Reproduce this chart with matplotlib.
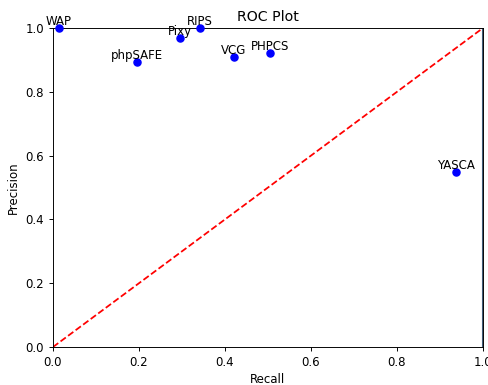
import matplotlib
matplotlib.use("Agg")
import matplotlib.pyplot as plt

# tool names and their (recall, precision) values
tools = ['WAP', 'phpSAFE', 'Pixy', 'RIPS', 'VCG', 'PHPCS', 'YASCA']
recall = [0.014, 0.195, 0.295, 0.342, 0.421, 0.505, 0.937]
precision = [1.0, 0.893, 0.969, 1.0, 0.909, 0.922, 0.549]

s = 0.85  # original looks like a downscaled default-size figure
plt.rcParams.update({
    'font.size': 10 * s,
    'axes.titlesize': 12 * s,
    'axes.linewidth': 0.8 * s,
    'xtick.major.size': 3.5 * s,
    'ytick.major.size': 3.5 * s,
    'xtick.major.width': 0.8 * s,
    'ytick.major.width': 0.8 * s,
    'lines.linewidth': 1.5 * s,
})

fig = plt.figure(figsize=(4.89, 3.85), dpi=100)
ax = fig.add_axes([53 / 489, 38 / 385, 430 / 489, 319 / 385])

ax.plot(recall, precision, 'bo', ms=6 * s, clip_on=False, zorder=3)
for name, x, y in zip(tools, recall, precision):
    ax.text(x, y, name, ha='center', va='bottom')

# random-guess diagonal
ax.plot([0, 1], [0, 1], 'r--')
ax.axvline(1.0, color='#3f5c78', lw=1.5)

ax.set_xlim(0, 1)
ax.set_ylim(0, 1)
ax.set_xlabel('Recall', labelpad=3)
ax.set_ylabel('Precision')
ax.set_title('ROC Plot', pad=5)

fig.savefig('out.png', dpi=100)
